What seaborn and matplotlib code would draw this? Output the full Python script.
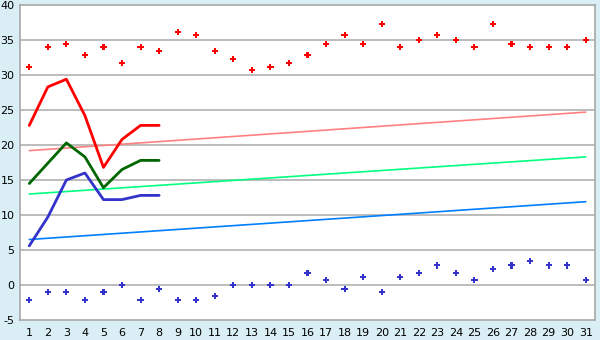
import matplotlib
matplotlib.use("Agg")
import matplotlib.pyplot as plt
import seaborn as sns
import pandas as pd

days = list(range(1, 32))

record_high = [31.1, 34.0, 34.4, 32.9, 34.0, 31.7, 34.0, 33.4, 36.1, 35.7,
               33.4, 32.3, 30.7, 31.1, 31.7, 32.9, 34.4, 35.7, 34.4, 37.3,
               34.0, 35.0, 35.7, 35.0, 34.0, 37.3, 34.4, 34.0, 34.0, 34.0, 35.0]
record_low = [-2.1, -1.0, -1.0, -2.1, -1.0, 0.0, -2.1, -0.6, -2.1, -2.1,
              -1.6, 0.0, 0.0, 0.0, 0.0, 1.7, 0.7, -0.6, 1.1, -1.0,
              1.1, 1.7, 2.8, 1.7, 0.7, 2.3, 2.8, 3.4, 2.8, 2.8, 0.7]

obs_days = [1, 2, 3, 4, 5, 6, 7, 8]
obs_high = [22.8, 28.3, 29.4, 24.2, 16.8, 20.8, 22.8, 22.8]
obs_mean = [14.5, 17.4, 20.3, 18.3, 13.9, 16.5, 17.8, 17.8]
obs_low = [5.6, 9.7, 15.0, 16.0, 12.2, 12.2, 12.8, 12.8]

normal_days = [1, 31]
normal_high = [19.2, 24.7]
normal_mean = [13.0, 18.3]
normal_low = [6.5, 11.9]

y_ticks = [-5, 0, 5, 10, 15, 20, 25, 30, 35, 40]

sns.set_style("white")
plt.rcParams['font.family'] = ['DejaVu Sans']
plt.rcParams['axes.unicode_minus'] = False

fig = plt.figure(figsize=(6, 3.4), dpi=100, facecolor="#D9EEF5")
ax = fig.add_axes([20/600, 1 - 320/340, 575/600, 315/340])
ax.set_facecolor("white")

for y in y_ticks[1:-1]:
    ax.axhline(y, color="#B0B0B0", lw=1.2, zorder=0)

norm = pd.DataFrame({"day": normal_days, "high": normal_high,
                     "mean": normal_mean, "low": normal_low})
sns.lineplot(data=norm, x="day", y="high", color="#FF8080", lw=1.2, ax=ax)
sns.lineplot(data=norm, x="day", y="mean", color="#00FF80", lw=1.2, ax=ax)
sns.lineplot(data=norm, x="day", y="low", color="#0080FF", lw=1.2, ax=ax)

obs = pd.DataFrame({"day": obs_days, "high": obs_high, "mean": obs_mean, "low": obs_low})
sns.lineplot(data=obs, x="day", y="high", color="#FF0000", lw=2, ax=ax)
sns.lineplot(data=obs, x="day", y="mean", color="#006600", lw=2, ax=ax)
sns.lineplot(data=obs, x="day", y="low", color="#3333CC", lw=2, ax=ax)

rec = pd.DataFrame({"day": days, "high": record_high, "low": record_low})
sns.scatterplot(data=rec, x="day", y="high", color="#FF0000", marker="P", s=20,
                edgecolor="none", ax=ax)
sns.scatterplot(data=rec, x="day", y="low", color="#3333CC", marker="P", s=20,
                edgecolor="none", ax=ax)

ax.set_xlim(0.5, 31.5)
ax.set_ylim(-5, 40)
ax.set_xticks(days)
ax.set_xticklabels([str(d) for d in days])
ax.set_yticks(y_ticks)
ax.set_yticklabels([str(v) for v in y_ticks])
ax.set_xlabel("")
ax.set_ylabel("")
for s in ax.spines.values():
    s.set_color("#A8A8A8")
    s.set_linewidth(1.2)
ax.tick_params(axis="both", which="both", length=4, width=1, color="#808080",
               labelsize=8, pad=2, direction="out", labelcolor="black")
ax.tick_params(axis="y", length=3, pad=1)

fig.savefig("out.png", dpi=100, facecolor=fig.get_facecolor())
